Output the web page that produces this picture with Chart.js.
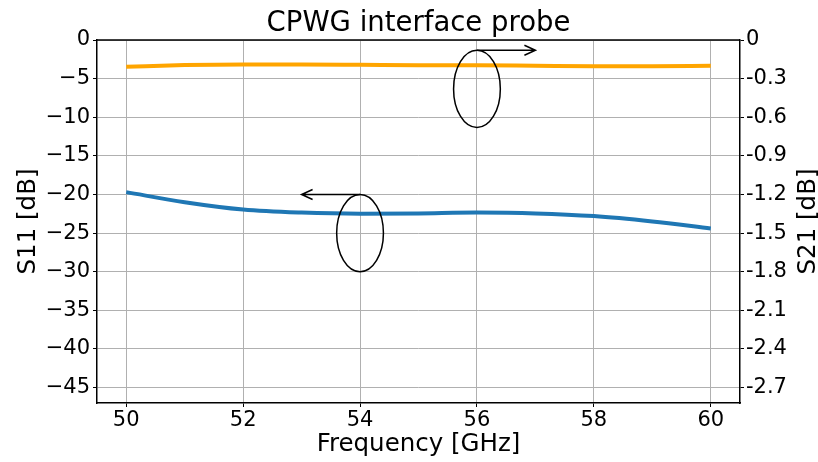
<!DOCTYPE html>
<html>
<head>
<meta charset="utf-8">
<script src="https://cdn.jsdelivr.net/npm/chart.js@4.4.0/dist/chart.umd.min.js"></script>
<style>
  html, body { margin: 0; padding: 0; background: #fff; }
  #wrap { width: 818px; height: 462px; }
</style>
</head>
<body>
<div id="wrap"><canvas id="chart" width="818" height="462"></canvas></div>
<script>
// data
const freqGHz = [50, 51, 52, 53, 54, 55, 56, 57, 58, 59, 60];
const s11dB = [-19.7, -21.0, -21.95, -22.35, -22.5, -22.45, -22.35, -22.45, -22.8, -23.5, -24.4];
const s21dB = [-0.208, -0.195, -0.19, -0.19, -0.193, -0.197, -0.197, -0.2, -0.203, -0.203, -0.2];

const xTicks = [50, 52, 54, 56, 58, 60];
const s11Ticks = [0, -5, -10, -15, -20, -25, -30, -35, -40, -45];
const s21Ticks = [0, -0.3, -0.6, -0.9, -1.2, -1.5, -1.8, -2.1, -2.4, -2.7];
const s21TickLabels = ['0', '-0.3', '-0.6', '-0.9', '-1.2', '-1.5', '-1.8', '-2.1', '-2.4', '-2.7'];

const FONT = "'DejaVu Sans', sans-serif";
Chart.defaults.font.family = FONT;
Chart.defaults.color = '#000';

function fixTicks(values) {
    return scale => { scale.ticks = values.map(v => ({ value: v })); };
}

// ellipses + arrows marking which curve goes with which axis
const annotate = {
    id: 'annotate',
    afterDatasetsDraw(chart) {
        const { ctx, scales: { x, y, y2 } } = chart;
        ctx.save();
        ctx.strokeStyle = '#000';
        ctx.lineWidth = 1.5;

        function mark(ys, cx, cy, w, h, arrowTo) {
            const px = x.getPixelForValue(cx);
            const py = ys.getPixelForValue(cy);
            const rx = Math.abs(x.getPixelForValue(cx + w / 2) - px);
            const ry = Math.abs(ys.getPixelForValue(cy + h / 2) - py);
            ctx.beginPath();
            ctx.ellipse(px, py, rx, ry, 0, 0, Math.PI * 2);
            ctx.stroke();
            const top = py - ry;
            const tip = x.getPixelForValue(arrowTo);
            const dir = tip > px ? 1 : -1;
            ctx.beginPath();
            ctx.moveTo(px, top);
            ctx.lineTo(tip, top);
            ctx.moveTo(tip - dir * 11, top - 5);
            ctx.lineTo(tip, top);
            ctx.lineTo(tip - dir * 11, top + 5);
            ctx.stroke();
        }
        mark(y2, 56, -0.38, 0.8, 0.6, 57);
        mark(y, 54, -25, 0.8, 10, 53);
        ctx.restore();
    },
    afterDraw(chart) {
        const { ctx, chartArea: a } = chart;
        ctx.save();
        ctx.strokeStyle = '#000';
        ctx.lineWidth = 1.5;
        ctx.beginPath();
        ctx.moveTo(a.left, a.top);
        ctx.lineTo(a.right, a.top);
        ctx.stroke();
        ctx.fillStyle = '#000';
        ctx.textAlign = 'center';
        ctx.textBaseline = 'middle';
        // title centred over the plot area
        ctx.font = '27.5px ' + FONT;
        ctx.fillText('CPWG interface probe', (a.left + a.right) / 2, 23.5);
        // right axis label, reading bottom to top like the left one
        ctx.translate(808.5, (a.top + a.bottom) / 2);
        ctx.rotate(-Math.PI / 2);
        ctx.font = '24.5px ' + FONT;
        ctx.fillText('S21 [dB]', 0, 0);
        ctx.restore();
    }
};

new Chart(document.getElementById('chart'), {
    type: 'line',
    data: {
        datasets: [{
            label: 'S11',
            data: freqGHz.map((f, i) => ({ x: f, y: s11dB[i] })),
            borderColor: '#1f77b4',
            borderWidth: 4,
            pointRadius: 0,
            cubicInterpolationMode: 'monotone',
            yAxisID: 'y'
        }, {
            label: 'S21',
            data: freqGHz.map((f, i) => ({ x: f, y: s21dB[i] })),
            borderColor: '#ffa500',
            borderWidth: 4,
            pointRadius: 0,
            cubicInterpolationMode: 'monotone',
            yAxisID: 'y2'
        }]
    },
    options: {
        responsive: false,
        animation: false,
        layout: { padding: { top: 40 } },
        plugins: {
            legend: { display: false },
            tooltip: { enabled: false },
            title: { display: false }
        },
        scales: {
            x: {
                type: 'linear',
                min: 49.5,
                max: 60.5,
                afterBuildTicks: fixTicks(xTicks),
                afterFit: s => { s.height = 59; },
                grid: { color: '#b0b0b0', lineWidth: 1, tickColor: '#000', tickLength: 4 },
                border: { color: '#000', width: 1.5 },
                ticks: { font: { size: 21 }, padding: 1, maxRotation: 0 },
                title: { display: true, text: 'Frequency [GHz]', font: { size: 24.5 }, padding: { top: 0, bottom: 3 } }
            },
            y: {
                position: 'left',
                min: -47,
                max: 0,
                afterBuildTicks: fixTicks(s11Ticks),
                afterFit: s => { s.width = 97; },
                grid: { color: '#b0b0b0', lineWidth: 1, tickColor: '#000', tickLength: 4 },
                border: { color: '#000', width: 1.5 },
                ticks: {
                    font: { size: 21 },
                    padding: 3,
                    callback: v => v < 0 ? '\u2212' + Math.abs(v) : String(v)
                },
                title: { display: true, text: 'S11 [dB]', font: { size: 24.5 }, padding: { top: 14, bottom: 0 } }
            },
            y2: {
                position: 'right',
                min: -2.82,
                max: 0,
                afterBuildTicks: fixTicks(s21Ticks),
                afterFit: s => { s.width = 78; },
                grid: { drawOnChartArea: false, tickColor: '#000', tickLength: 4 },
                border: { color: '#000', width: 1.5 },
                ticks: {
                    font: { size: 21 },
                    padding: 2,
                    callback: (v, i) => s21TickLabels[i]
                }
            }
        }
    },
    plugins: [annotate]
});
</script>
</body>
</html>
